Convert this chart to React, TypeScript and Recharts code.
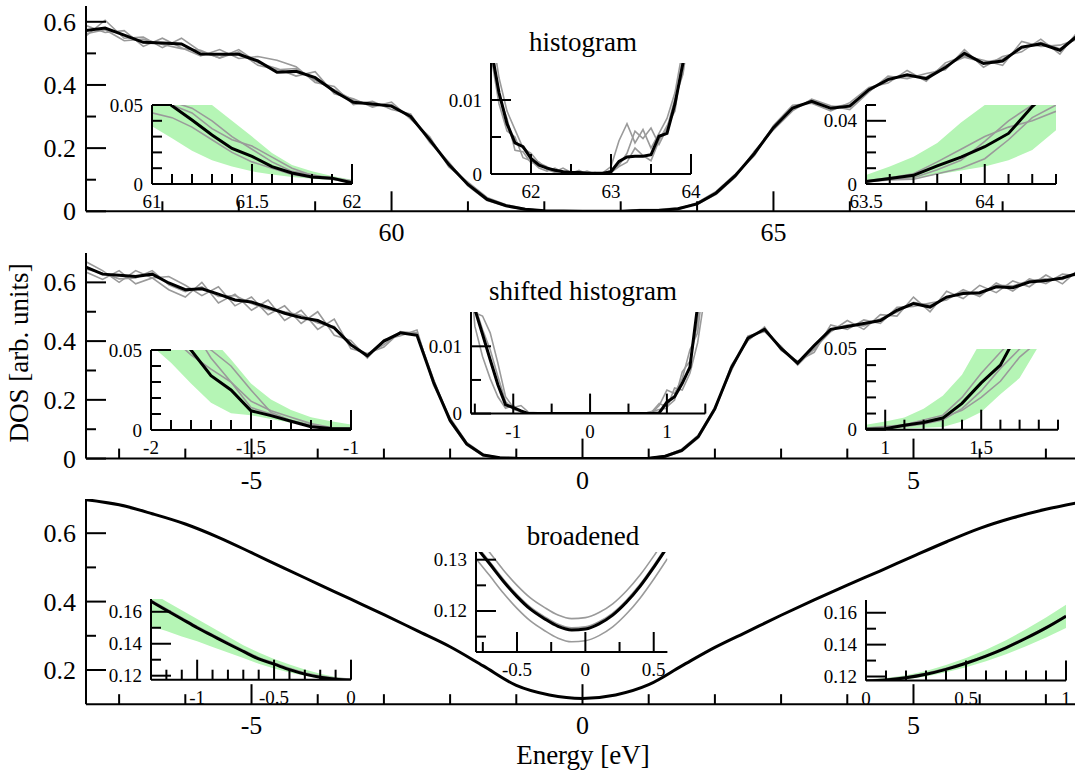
import React from "react";
import { ComposedChart, Line, Area, XAxis, YAxis } from "recharts";

const FONT = "'Liberation Serif', 'DejaVu Serif', serif";
const GRAY = "#9a9a9a";
const GREEN = "#b5f5b5";

// ---------- panel 1: histogram ----------
const xP1 = [56, 56.25, 56.5, 56.75, 57, 57.25, 57.5, 57.75, 58, 58.25, 58.5, 58.75, 59, 59.25, 59.5, 59.75, 60, 60.25, 60.5, 60.75, 61, 61.25, 61.5, 61.75, 62, 62.25, 62.5, 62.75, 63, 63.25, 63.5, 63.75, 64, 64.25, 64.5, 64.75, 65, 65.25, 65.5, 65.75, 66, 66.25, 66.5, 66.75, 67, 67.25, 67.5, 67.75, 68, 68.25, 68.5, 68.75, 69];
const p1Mean = [0.572, 0.58, 0.558, 0.535, 0.533, 0.53, 0.498, 0.497, 0.497, 0.476, 0.44, 0.443, 0.423, 0.38, 0.345, 0.34, 0.333, 0.3, 0.226, 0.148, 0.085, 0.038, 0.0175, 0.0065, 0.0015, 0.0006, 0.0002, 0, 0, 0.0022, 0.0025, 0.008, 0.0236, 0.058, 0.113, 0.183, 0.265, 0.327, 0.348, 0.326, 0.333, 0.385, 0.417, 0.432, 0.42, 0.455, 0.5, 0.468, 0.476, 0.52, 0.53, 0.51, 0.56];
const p1Run1 = [0.555, 0.605, 0.548, 0.552, 0.518, 0.548, 0.506, 0.486, 0.512, 0.47, 0.452, 0.428, 0.442, 0.372, 0.356, 0.33, 0.346, 0.292, 0.236, 0.14, 0.092, 0.044, 0.021, 0.008, 0.002, 0.0008, 0, 0.0003, 0, 0.004, 0.0035, 0.007, 0.027, 0.063, 0.118, 0.176, 0.272, 0.336, 0.342, 0.318, 0.344, 0.392, 0.406, 0.446, 0.412, 0.47, 0.492, 0.478, 0.462, 0.538, 0.522, 0.526, 0.546];
const p1Run2 = [0.588, 0.566, 0.572, 0.522, 0.548, 0.518, 0.492, 0.512, 0.484, 0.49, 0.478, 0.458, 0.408, 0.395, 0.338, 0.348, 0.322, 0.308, 0.218, 0.156, 0.08, 0.034, 0.016, 0.005, 0.001, 0.0004, 0.0001, 0, 0.0005, 0.0055, 0.0065, 0.01, 0.022, 0.054, 0.108, 0.19, 0.258, 0.318, 0.355, 0.334, 0.322, 0.378, 0.428, 0.42, 0.436, 0.448, 0.512, 0.456, 0.49, 0.505, 0.545, 0.498, 0.574];
const p1Run3 = [0.562, 0.575, 0.54, 0.545, 0.528, 0.515, 0.51, 0.485, 0.505, 0.462, 0.448, 0.452, 0.415, 0.385, 0.352, 0.335, 0.338, 0.296, 0.23, 0.152, 0.088, 0.04, 0.018, 0.007, 0.0025, 0.001, 0.0004, 0.0001, 0, 0.003, 0.002, 0.006, 0.025, 0.06, 0.11, 0.186, 0.262, 0.322, 0.352, 0.33, 0.338, 0.38, 0.422, 0.428, 0.425, 0.462, 0.488, 0.472, 0.482, 0.515, 0.535, 0.515, 0.552];

const xP1L = [61, 61.1, 61.2, 61.3, 61.4, 61.5, 61.6, 61.7, 61.8, 61.9, 62];
const p1LMean = [0.06, 0.0495, 0.0405, 0.031, 0.0225, 0.0175, 0.011, 0.007, 0.0044, 0.0037, 0.0007];
const p1LRun1 = [0.045, 0.042, 0.036, 0.028, 0.02, 0.014, 0.01, 0.006, 0.004, 0.003, 0.001];
const p1LRun2 = [0.055, 0.05, 0.045, 0.035, 0.028, 0.024, 0.017, 0.01, 0.0055, 0.004, 0.002];
const p1LRun3 = [0.07, 0.052, 0.048, 0.04, 0.03, 0.022, 0.014, 0.008, 0.006, 0.003, 0.0015];
const p1LLow = [0.0365, 0.029, 0.021, 0.015, 0.011, 0.008, 0.006, 0.0045, 0.0033, 0.0025, 0.0017];
const p1LHigh = [0.075, 0.066, 0.058, 0.05, 0.04, 0.03, 0.0196, 0.012, 0.008, 0.005, 0.0027];

const xP1M = [61.5, 61.6, 61.7, 61.8, 61.9, 62, 62.1, 62.2, 62.3, 62.4, 62.5, 62.6, 62.7, 62.8, 62.9, 63, 63.1, 63.2, 63.3, 63.4, 63.5, 63.6, 63.7, 63.8, 63.9, 64];
const p1MMean = [0.017, 0.011, 0.0068, 0.0042, 0.0037, 0.0021, 0.0012, 0.0008, 0.0005, 0.0003, 0.0002, 0.0002, 0.0001, 0.0001, 0.0001, 0.0003, 0.0017, 0.0023, 0.0024, 0.0024, 0.0026, 0.0051, 0.0055, 0.0095, 0.015, 0.024];
const p1MRun1 = [0.02, 0.013, 0.0085, 0.006, 0.0035, 0.0028, 0.0015, 0.001, 0.0003, 0.0008, 0.0002, 0, 0.0004, 0, 0.0002, 0.001, 0.0045, 0.0068, 0.0042, 0.006, 0.0035, 0.0055, 0.0075, 0.011, 0.017, 0.026];
const p1MRun2 = [0.016, 0.0095, 0.0058, 0.005, 0.0022, 0.0018, 0.0008, 0.0004, 0.0008, 0.0002, 0.0001, 0.0005, 0, 0.0002, 0, 0.0005, 0.0012, 0.0028, 0.0058, 0.0048, 0.0062, 0.004, 0.0062, 0.0102, 0.0135, 0.021];
const p1MRun3 = [0.018, 0.0105, 0.0075, 0.0032, 0.003, 0.0015, 0.0016, 0.0006, 0.0002, 0.0004, 0, 0.0001, 0.0002, 0.0001, 0.0001, 0.0002, 0.001, 0.0016, 0.0035, 0.0025, 0.0018, 0.0045, 0.0065, 0.0085, 0.016, 0.022];

const xP1R = [63.5, 63.6, 63.7, 63.8, 63.9, 64, 64.1, 64.2, 64.3];
const p1RMean = [0.0015, 0.0035, 0.0055, 0.0115, 0.017, 0.0236, 0.032, 0.049, 0.062];
const p1RRun1 = [0.0015, 0.003, 0.004, 0.009, 0.015, 0.027, 0.04, 0.05, 0.06];
const p1RRun2 = [0.0015, 0.0025, 0.003, 0.0065, 0.01, 0.016, 0.028, 0.042, 0.05];
const p1RRun3 = [0.002, 0.004, 0.0065, 0.014, 0.022, 0.03, 0.036, 0.04, 0.046];
const p1RLow = [0.001, 0.003, 0.0036, 0.006, 0.0085, 0.0111, 0.015, 0.0215, 0.034];
const p1RHigh = [0.0057, 0.011, 0.0173, 0.026, 0.0389, 0.05, 0.064, 0.08, 0.1];

// ---------- panel 2: shifted histogram ----------
const xP2 = [-7.5, -7.25, -7, -6.75, -6.5, -6.25, -6, -5.75, -5.5, -5.25, -5, -4.75, -4.5, -4.25, -4, -3.75, -3.5, -3.25, -3, -2.75, -2.5, -2.25, -2, -1.75, -1.5, -1.25, -1, -0.75, -0.5, -0.25, 0, 0.25, 0.5, 0.75, 1, 1.25, 1.5, 1.75, 2, 2.25, 2.5, 2.75, 3, 3.25, 3.5, 3.75, 4, 4.25, 4.5, 4.75, 5, 5.25, 5.5, 5.75, 6, 6.25, 6.5, 6.75, 7, 7.25, 7.5];
const p2Mean = [0.652, 0.628, 0.624, 0.62, 0.628, 0.598, 0.575, 0.578, 0.56, 0.54, 0.533, 0.515, 0.495, 0.48, 0.47, 0.445, 0.388, 0.35, 0.4, 0.428, 0.42, 0.26, 0.13, 0.05, 0.012, 0.003, 0.0008, 0, 0, 0, 0, 0, 0, 0, 0.0015, 0.008, 0.028, 0.075, 0.17, 0.31, 0.41, 0.44, 0.375, 0.325, 0.385, 0.44, 0.45, 0.46, 0.47, 0.505, 0.528, 0.516, 0.55, 0.562, 0.565, 0.585, 0.582, 0.601, 0.606, 0.615, 0.632];
const p2Run1 = [0.635, 0.61, 0.64, 0.595, 0.615, 0.575, 0.55, 0.6, 0.53, 0.56, 0.505, 0.54, 0.47, 0.505, 0.44, 0.475, 0.375, 0.358, 0.38, 0.432, 0.425, 0.27, 0.125, 0.046, 0.01, 0.002, 0.0005, 0, 0, 0, 0, 0, 0, 0, 0.002, 0.01, 0.032, 0.08, 0.175, 0.3, 0.418, 0.432, 0.382, 0.318, 0.375, 0.432, 0.47, 0.44, 0.49, 0.485, 0.55, 0.5, 0.57, 0.545, 0.59, 0.565, 0.605, 0.585, 0.625, 0.595, 0.645];
const p2Run2 = [0.67, 0.64, 0.6, 0.64, 0.615, 0.62, 0.59, 0.555, 0.585, 0.52, 0.55, 0.49, 0.52, 0.46, 0.5, 0.42, 0.402, 0.342, 0.405, 0.418, 0.438, 0.25, 0.138, 0.055, 0.015, 0.004, 0.001, 0, 0, 0, 0, 0, 0, 0, 0.001, 0.006, 0.024, 0.07, 0.165, 0.318, 0.402, 0.448, 0.368, 0.332, 0.362, 0.455, 0.44, 0.472, 0.46, 0.515, 0.518, 0.53, 0.54, 0.575, 0.552, 0.598, 0.57, 0.612, 0.596, 0.628, 0.622];
const p2Run3 = [0.645, 0.632, 0.612, 0.615, 0.64, 0.592, 0.568, 0.585, 0.552, 0.555, 0.528, 0.508, 0.5, 0.488, 0.462, 0.45, 0.385, 0.355, 0.388, 0.43, 0.428, 0.265, 0.135, 0.052, 0.013, 0.003, 0.001, 0, 0, 0, 0, 0, 0, 0, 0.0018, 0.009, 0.03, 0.078, 0.168, 0.305, 0.412, 0.436, 0.378, 0.328, 0.372, 0.44, 0.455, 0.452, 0.476, 0.498, 0.532, 0.522, 0.545, 0.568, 0.56, 0.59, 0.588, 0.605, 0.612, 0.61, 0.635];

const xP2L = [-2, -1.9, -1.8, -1.7, -1.6, -1.5, -1.4, -1.3, -1.2, -1.1, -1];
const p2LMean = [0.075, 0.062, 0.05, 0.034, 0.025, 0.012, 0.009, 0.0055, 0.002, 0.001, 0.0008];
const p2LRun1 = [0.07, 0.058, 0.047, 0.038, 0.03, 0.014, 0.01, 0.006, 0.003, 0.0012, 0.0008];
const p2LRun2 = [0.08, 0.07, 0.058, 0.05, 0.04, 0.025, 0.011, 0.006, 0.0025, 0.001, 0.001];
const p2LRun3 = [0.09, 0.075, 0.065, 0.045, 0.03, 0.018, 0.012, 0.008, 0.004, 0.0015, 0.0006];
const p2LLow = [0.053, 0.042, 0.029, 0.017, 0.0105, 0.0092, 0.0068, 0.0045, 0.0028, 0.0015, 0.0008];
const p2LHigh = [0.09, 0.08, 0.07, 0.058, 0.044, 0.029, 0.019, 0.0125, 0.008, 0.0055, 0.0035];

const xP2M = [-1.55, -1.5, -1.4, -1.3, -1.2, -1.1, -1, -0.9, -0.8, -0.5, 0, 0.5, 0.7, 0.8, 0.9, 1, 1.1, 1.2, 1.3, 1.4, 1.5];
const p2MMean = [0.018, 0.0155, 0.0118, 0.008, 0.0043, 0.0013, 0.0009, 0.0004, 0, 0, 0, 0, 0, 0, 0.0001, 0.0017, 0.0025, 0.0045, 0.0069, 0.016, 0.03];
const p2MRun1 = [0.016, 0.015, 0.0145, 0.012, 0.0075, 0.0025, 0.0009, 0.0012, 0.0002, 0, 0, 0, 0, 0.0001, 0.0012, 0.0035, 0.003, 0.0052, 0.0095, 0.012, 0.022];
const p2MRun2 = [0.02, 0.013, 0.0085, 0.0052, 0.0025, 0.0008, 0.0012, 0.0002, 0, 0, 0, 0, 0, 0.0003, 0.0006, 0.0008, 0.0038, 0.0035, 0.006, 0.0105, 0.018];
const p2MRun3 = [0.017, 0.016, 0.0125, 0.0095, 0.0055, 0.0018, 0.0006, 0.0003, 0.0001, 0, 0, 0, 0.0001, 0.0002, 0.0015, 0.001, 0.002, 0.0062, 0.0078, 0.0135, 0.026];

const xP2R = [0.9, 1, 1.1, 1.2, 1.3, 1.4, 1.5, 1.6, 1.7, 1.8, 1.9];
const p2RMean = [0.0003, 0.0006, 0.0027, 0.0045, 0.0072, 0.0163, 0.029, 0.04, 0.062, 0.085, 0.11];
const p2RRun1 = [0.0003, 0.0008, 0.003, 0.006, 0.009, 0.02, 0.035, 0.048, 0.06, 0.075, 0.09];
const p2RRun2 = [0.0005, 0.001, 0.002, 0.0035, 0.006, 0.013, 0.024, 0.038, 0.05, 0.06, 0.07];
const p2RRun3 = [0.001, 0.002, 0.003, 0.005, 0.0075, 0.012, 0.02, 0.03, 0.045, 0.055, 0.07];
const p2RLow = [0.0002, 0.0004, 0.0008, 0.0012, 0.0017, 0.005, 0.011, 0.022, 0.032, 0.052, 0.07];
const p2RHigh = [0.003, 0.005, 0.0075, 0.013, 0.021, 0.034, 0.055, 0.075, 0.1, 0.12, 0.14];

// ---------- panel 3: broadened ----------
const xP3 = [-7.5, -7, -6.5, -6, -5.5, -5, -4.5, -4, -3.5, -3, -2.5, -2, -1.5, -1, -0.5, 0, 0.5, 1, 1.5, 2, 2.5, 3, 3.5, 4, 4.5, 5, 5.5, 6, 6.5, 7, 7.5];
const p3Mean = [0.698, 0.683, 0.657, 0.627, 0.588, 0.543, 0.497, 0.452, 0.407, 0.362, 0.315, 0.268, 0.212, 0.155, 0.127, 0.117, 0.127, 0.157, 0.212, 0.266, 0.313, 0.36, 0.405, 0.448, 0.49, 0.533, 0.575, 0.614, 0.645, 0.67, 0.69];

const xP3L = [-1.3, -1.2, -1.1, -1, -0.9, -0.8, -0.7, -0.6, -0.5, -0.4, -0.3, -0.2, -0.1, 0];
const p3LMean = [0.1665, 0.161, 0.1555, 0.15, 0.145, 0.14, 0.1352, 0.1305, 0.1272, 0.1238, 0.121, 0.119, 0.1178, 0.1172];
const p3LRun1 = [0.1673, 0.1618, 0.1563, 0.1508, 0.1458, 0.1408, 0.136, 0.1313, 0.128, 0.1246, 0.1218, 0.1198, 0.1186, 0.118];
const p3LLow = [0.151, 0.148, 0.1445, 0.1415, 0.138, 0.1345, 0.131, 0.1275, 0.1245, 0.122, 0.12, 0.1184, 0.1174, 0.117];
const p3LHigh = [0.172, 0.1665, 0.161, 0.1555, 0.15, 0.1445, 0.139, 0.1345, 0.1305, 0.127, 0.1238, 0.1212, 0.1192, 0.118];

const xP3M = [-0.8, -0.7, -0.6, -0.5, -0.4, -0.3, -0.2, -0.1, 0, 0.1, 0.2, 0.3, 0.4, 0.5, 0.6];
const p3MMean = [0.1325, 0.1292, 0.1258, 0.1228, 0.1203, 0.1185, 0.117, 0.1163, 0.1165, 0.1175, 0.1192, 0.1217, 0.1248, 0.1285, 0.1325];
const p3MRun1 = [0.1347, 0.1314, 0.128, 0.125, 0.1225, 0.1207, 0.1192, 0.1185, 0.1187, 0.1197, 0.1214, 0.1239, 0.127, 0.1307, 0.1347];
const p3MRun2 = [0.1329, 0.1296, 0.1262, 0.1232, 0.1207, 0.1189, 0.1174, 0.1167, 0.1169, 0.1179, 0.1196, 0.1221, 0.1252, 0.1289, 0.1329];
const p3MRun3 = [0.1302, 0.1269, 0.1235, 0.1205, 0.118, 0.1162, 0.1147, 0.114, 0.1142, 0.1152, 0.1169, 0.1194, 0.1225, 0.1262, 0.1302];

const xP3R = [0, 0.1, 0.2, 0.3, 0.4, 0.5, 0.6, 0.7, 0.8, 0.9, 1];
const p3RMean = [0.1172, 0.1178, 0.1192, 0.1214, 0.1245, 0.1283, 0.1328, 0.138, 0.144, 0.1505, 0.1578];
const p3RRun1 = [0.1178, 0.1184, 0.1198, 0.122, 0.1251, 0.1289, 0.1334, 0.1386, 0.1446, 0.1511, 0.1584];
const p3RLow = [0.1168, 0.1172, 0.1183, 0.12, 0.1226, 0.1258, 0.1296, 0.134, 0.139, 0.1445, 0.1505];
const p3RHigh = [0.118, 0.119, 0.1208, 0.1235, 0.1272, 0.1316, 0.1368, 0.1428, 0.1496, 0.157, 0.165];

// ---------- ticks ----------
const ticksP1X = [57, 58, 59, 60, 61, 62, 63, 64, 65, 66, 67, 68];
const labelsP1X = [60, 65];
const ticksEX = [-7, -6, -5, -4, -3, -2, -1, 0, 1, 2, 3, 4, 5, 6, 7];
const labelsEX = [-5, 0, 5];
const ticksDosY = [0, 0.1, 0.2, 0.3, 0.4, 0.5, 0.6];
const labelsDosY = [0, 0.2, 0.4, 0.6];
const ticksP3Y = [0.2, 0.3, 0.4, 0.5, 0.6];
const labelsP3Y = [0.2, 0.4, 0.6];
const ticksSmallY = [0, 0.01, 0.02, 0.03, 0.04, 0.05];
const ticksTinyY = [0, 0.005, 0.01];
const ticksBroadY = [0.12, 0.13, 0.14, 0.15, 0.16];

function rowsOf(x: number[], cols: Record<string, number[]>) {
  return x.map((xv, i) => {
    const r: any = { x: xv };
    Object.keys(cols).forEach((k) => (r[k] = cols[k][i]));
    return r;
  });
}

function tickOf(side: string, labels: number[], fs: number, xOff: number, yOff: number, gap: number) {
  return (props: any) => {
    const { x, y, payload } = props;
    const v = payload.value;
    const major = labels.some((m) => Math.abs(m - v) < 1e-9);
    const len = major ? 20 : 10;
    const ln = { stroke: "#000", strokeWidth: 2 };
    const txt = { fill: "#000", fontFamily: FONT, fontSize: fs };
    if (side === "bottom")
      return (
        <g>
          <line x1={x} y1={y} x2={x} y2={y - len} {...ln} />
          {major && <text x={x} y={y + xOff} textAnchor="middle" {...txt}>{String(v)}</text>}
        </g>
      );
    if (side === "top") return <line x1={x} y1={y} x2={x} y2={y + len} {...ln} />;
    if (side === "left")
      return (
        <g>
          <line x1={x} y1={y} x2={x + len} y2={y} {...ln} />
          {major && <text x={x - gap} y={y + yOff} textAnchor="end" {...txt}>{String(v)}</text>}
        </g>
      );
    return <line x1={x} y1={y} x2={x - len} y2={y} {...ln} />;
  };
}

function Panel(p: any) {
  const big = !!p.big;
  const fs = big ? 26 : 19;
  const WL = big ? p.left : 64;
  const MT = big ? 4 : 14;
  const MR = big ? 4 : 26;
  const HB = big ? 40 : 32;
  const xOff = big ? 30 : 24;
  const yOff = big ? 9 : 6.5;
  const gap = big ? 10 : 9;
  const frame = { stroke: "#000", strokeWidth: 2 };
  const common = { type: "number" as const, domain: p.xd, allowDataOverflow: true, ticks: p.xt, interval: 0 as const, tickSize: 0, tickMargin: 0, tickLine: false, axisLine: frame };
  const commonY = { type: "number" as const, domain: p.yd, allowDataOverflow: true, ticks: p.yt, interval: 0 as const, tickSize: 0, tickMargin: 0, tickLine: false, axisLine: frame };
  return (
    <div style={{ position: "absolute", left: p.left - WL, top: p.top - MT }}>
      <ComposedChart width={WL + p.w + MR} height={MT + p.h + HB} data={p.rows} margin={{ top: MT, right: MR, bottom: 0, left: 0 }}>
        <XAxis xAxisId="b" dataKey="x" orientation="bottom" height={HB} {...common} tick={tickOf("bottom", p.xm, fs, xOff, yOff, gap)} />
        <XAxis xAxisId="t" dataKey="x" orientation="top" height={0} {...common} tick={tickOf("top", p.xm, fs, xOff, yOff, gap)} />
        <YAxis yAxisId="l" orientation="left" width={WL} {...commonY} tick={tickOf("left", p.ym, fs, xOff, yOff, gap)} />
        <YAxis yAxisId="r" orientation="right" width={0} {...commonY} tick={tickOf("right", p.ym, fs, xOff, yOff, gap)} />
        {p.band && (
          <Area xAxisId="b" yAxisId="l" type="linear" dataKey={(d: any) => [d.lo, d.hi]} stroke="none" fill={GREEN} fillOpacity={1} isAnimationActive={false} />
        )}
        {(p.grays || []).map((k: string) => (
          <Line key={k} xAxisId="b" yAxisId="l" type={p.curve || "linear"} dataKey={k} stroke={GRAY} strokeWidth={1.6} dot={false} isAnimationActive={false} />
        ))}
        <Line xAxisId="b" yAxisId="l" type={p.curve || "linear"} dataKey="m" stroke="#000" strokeWidth={3} dot={false} isAnimationActive={false} />
      </ComposedChart>
    </div>
  );
}

const G3 = ["r1", "r2", "r3"];

export default function App() {
  const rP1 = rowsOf(xP1, { m: p1Mean, r1: p1Run1, r2: p1Run2, r3: p1Run3 });
  const rP1L = rowsOf(xP1L, { m: p1LMean, r1: p1LRun1, r2: p1LRun2, r3: p1LRun3, lo: p1LLow, hi: p1LHigh });
  const rP1M = rowsOf(xP1M, { m: p1MMean, r1: p1MRun1, r2: p1MRun2, r3: p1MRun3 });
  const rP1R = rowsOf(xP1R, { m: p1RMean, r1: p1RRun1, r2: p1RRun2, r3: p1RRun3, lo: p1RLow, hi: p1RHigh });
  const rP2 = rowsOf(xP2, { m: p2Mean, r1: p2Run1, r2: p2Run2, r3: p2Run3 });
  const rP2L = rowsOf(xP2L, { m: p2LMean, r1: p2LRun1, r2: p2LRun2, r3: p2LRun3, lo: p2LLow, hi: p2LHigh });
  const rP2M = rowsOf(xP2M, { m: p2MMean, r1: p2MRun1, r2: p2MRun2, r3: p2MRun3 });
  const rP2R = rowsOf(xP2R, { m: p2RMean, r1: p2RRun1, r2: p2RRun2, r3: p2RRun3, lo: p2RLow, hi: p2RHigh });
  const rP3 = rowsOf(xP3, { m: p3Mean });
  const rP3L = rowsOf(xP3L, { m: p3LMean, r1: p3LRun1, lo: p3LLow, hi: p3LHigh });
  const rP3M = rowsOf(xP3M, { m: p3MMean, r1: p3MRun1, r2: p3MRun2, r3: p3MRun3 });
  const rP3R = rowsOf(xP3R, { m: p3RMean, r1: p3RRun1, lo: p3RLow, hi: p3RHigh });

  const title = { fontFamily: FONT, fontSize: 27, fill: "#000" };

  return (
    <div style={{ position: "relative", width: 1075, height: 772, overflow: "hidden", background: "#fff" }}>
      <style>{"body{margin:0}"}</style>

      <Panel big left={86} top={5.5} w={993} h={205.3} xd={[56, 69]} yd={[0, 0.65]} xt={ticksP1X} xm={labelsP1X} yt={ticksDosY} ym={labelsDosY} rows={rP1} grays={G3} />
      <Panel big left={86} top={252.7} w={993} h={205.6} xd={[-7.5, 7.5]} yd={[0, 0.7]} xt={ticksEX} xm={labelsEX} yt={ticksDosY} ym={labelsDosY} rows={rP2} grays={G3} />
      <Panel big left={86} top={499.3} w={993} h={205.2} xd={[-7.5, 7.5]} yd={[0.1, 0.7]} xt={ticksEX} xm={labelsEX} yt={ticksP3Y} ym={labelsP3Y} rows={rP3} curve="monotone" />

      <Panel left={151.5} top={105.3} w={200} h={79} xd={[61, 62]} yd={[0, 0.05]} xt={xP1L} xm={[61, 61.5, 62]} yt={ticksSmallY} ym={[0, 0.05]} rows={rP1L} grays={G3} band />
      <Panel left={491} top={63.3} w={200} h={111} xd={[61.5, 64]} yd={[0, 0.015]} xt={[61.5, 62, 62.5, 63, 63.5, 64]} xm={[62, 63, 64]} yt={ticksTinyY} ym={[0, 0.01]} rows={rP1M} grays={G3} />
      <Panel left={866} top={105} w={190} h={79} xd={[63.5, 64.3]} yd={[0, 0.05]} xt={xP1R} xm={[63.5, 64]} yt={ticksSmallY} ym={[0, 0.04]} rows={rP1R} grays={G3} band />

      <Panel left={151} top={350} w={200} h={80} xd={[-2, -1]} yd={[0, 0.05]} xt={xP2L} xm={[-2, -1.5, -1]} yt={ticksSmallY} ym={[0, 0.05]} rows={rP2L} grays={G3} band />
      <Panel left={470.7} top={311.7} w={234.3} h={101.6} xd={[-1.55, 1.5]} yd={[0, 0.0151]} xt={[-1.5, -1, -0.5, 0, 0.5, 1, 1.5]} xm={[-1, 0, 1]} yt={ticksTinyY} ym={[0, 0.01]} rows={rP2M} grays={G3} />
      <Panel left={866} top={349.3} w={192} h={80.7} xd={[0.9, 1.9]} yd={[0, 0.05]} xt={xP2R} xm={[1, 1.5]} yt={ticksSmallY} ym={[0, 0.05]} rows={rP2R} grays={G3} band />

      <Panel left={151} top={599.3} w={200} h={80.7} xd={[-1.3, 0]} yd={[0.1175, 0.168]} xt={xP3L} xm={[-1, -0.5, 0]} yt={ticksBroadY} ym={[0.12, 0.14, 0.16]} rows={rP3L} grays={["r1"]} band curve="monotone" />
      <Panel left={476} top={552.3} w={191.4} h={100} xd={[-0.8, 0.6]} yd={[0.112, 0.1315]} xt={[-0.75, -0.5, -0.25, 0, 0.25, 0.5]} xm={[-0.5, 0, 0.5]} yt={[0.115, 0.12, 0.125, 0.13]} ym={[0.12, 0.13]} rows={rP3M} grays={G3} curve="monotone" />
      <Panel left={866} top={599.5} w={200} h={80.5} xd={[0, 1]} yd={[0.1175, 0.168]} xt={xP3R} xm={[0, 0.5, 1]} yt={ticksBroadY} ym={[0.12, 0.14, 0.16]} rows={rP3R} grays={["r1"]} band curve="monotone" />

      <svg width={1075} height={772} style={{ position: "absolute", left: 0, top: 0, pointerEvents: "none" }}>
        <text x={583} y={51} textAnchor="middle" {...title}>histogram</text>
        <text x={583} y={300} textAnchor="middle" {...title}>shifted histogram</text>
        <text x={583} y={545} textAnchor="middle" {...title}>broadened</text>
        <text x={583} y={764} textAnchor="middle" {...title}>Energy [eV]</text>
        <text x={28} y={353} textAnchor="middle" transform="rotate(-90 28 353)" {...title}>DOS [arb. units]</text>
      </svg>
    </div>
  );
}
